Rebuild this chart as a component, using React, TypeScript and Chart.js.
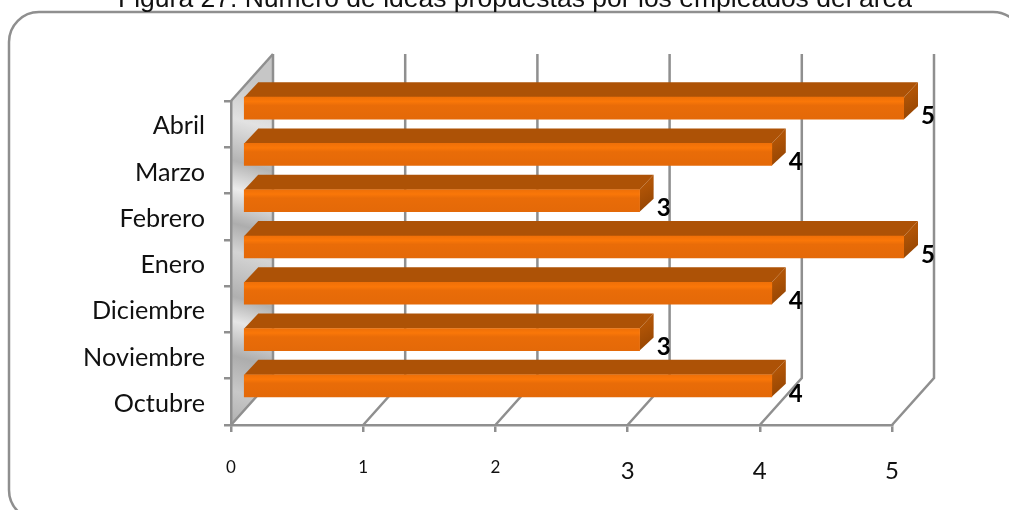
import { useEffect, useRef } from "react";
import { Chart, registerables } from "chart.js";

Chart.register(...registerables);

const chartTitle = "Figura 27. Número de ideas propuestas por los empleados del área";
const months = ["Octubre", "Noviembre", "Diciembre", "Enero", "Febrero", "Marzo", "Abril"];
const ideas = [4, 3, 4, 5, 3, 4, 5];
const axisMax = 5;

const LINE = "#8f8f8f";
const TOP_FACE = "#ad5206";
const FONT = "Lato";

// Projection of the 3D box: wall depth, bar offset inside the box, bar depth.
const WALL = { dx: 42, dy: -47 };
const BAR_SHIFT = { dx: 12, dy: -16 };
const BAR_DEPTH = { dx: 14, dy: -15 };

function roundedFrame(ctx: CanvasRenderingContext2D) {
  ctx.save();
  ctx.strokeStyle = LINE;
  ctx.lineWidth = 2.5;
  ctx.beginPath();
  ctx.roundRect(9, 12, 1014, 508, 30);
  ctx.stroke();
  ctx.restore();
}

const backdrop = {
  id: "backdrop",
  beforeDraw(chart: any) {
    const { ctx, chartArea: a, scales } = chart;
    ctx.save();
    ctx.fillStyle = "#fff";
    ctx.fillRect(0, 0, chart.width, chart.height);
    roundedFrame(ctx);

    ctx.fillStyle = "#111";
    ctx.font = "26.5px 'Liberation Sans'";
    ctx.textAlign = "center";
    ctx.textBaseline = "alphabetic";
    ctx.fillText(chartTitle, 515, 6.5);

    // Left side wall with its silver sheen
    const wall = ctx.createLinearGradient(a.left, a.bottom, a.left + 90, a.top);
    [
      [0, "#b0b0b0"], [0.1, "#c8c8c8"], [0.2, "#adadad"], [0.3, "#e6e6e6"], [0.37, "#b0b0b0"],
      [0.5, "#d4d4d4"], [0.58, "#adadad"], [0.68, "#ececec"], [0.76, "#b4b4b4"], [0.88, "#e2e2e2"], [1, "#c6c6c6"],
    ].forEach(([o, c]) => wall.addColorStop(o as number, c as string));
    ctx.fillStyle = wall;
    ctx.beginPath();
    ctx.moveTo(a.left, a.top);
    ctx.lineTo(a.left + WALL.dx, a.top + WALL.dy);
    ctx.lineTo(a.left + WALL.dx, a.bottom + WALL.dy);
    ctx.lineTo(a.left, a.bottom);
    ctx.closePath();
    ctx.fill();

    // Floor diagonals and back wall gridlines, one per value tick
    ctx.strokeStyle = LINE;
    ctx.lineWidth = 2.5;
    ctx.lineJoin = "miter";
    for (let v = 0; v <= axisMax; v++) {
      const px = scales.x.getPixelForValue(v);
      ctx.beginPath();
      ctx.moveTo(px, a.bottom);
      ctx.lineTo(px + WALL.dx, a.bottom + WALL.dy);
      ctx.lineTo(px + WALL.dx, a.top + WALL.dy);
      ctx.stroke();
    }
    ctx.beginPath();
    ctx.moveTo(a.left, a.top);
    ctx.lineTo(a.left + WALL.dx, a.top + WALL.dy);
    ctx.stroke();
    ctx.restore();
  },
};

const boxBars = {
  id: "boxBars",
  // Top and end faces sit behind the front faces that the dataset draws.
  beforeDatasetsDraw(chart: any) {
    const { ctx } = chart;
    const meta = chart.getDatasetMeta(0);
    ctx.save();
    ctx.translate(BAR_SHIFT.dx, BAR_SHIFT.dy);
    meta.data.forEach((bar: any) => {
      const { x, y, base, height } = bar.getProps(["x", "y", "base", "height"], true);
      const top = y - height / 2;
      const bottom = y + height / 2;
      ctx.fillStyle = TOP_FACE;
      ctx.beginPath();
      ctx.moveTo(base, top);
      ctx.lineTo(base + BAR_DEPTH.dx, top + BAR_DEPTH.dy);
      ctx.lineTo(x + BAR_DEPTH.dx, top + BAR_DEPTH.dy);
      ctx.lineTo(x, top);
      ctx.closePath();
      ctx.fill();

      const side = ctx.createLinearGradient(x, top, x + BAR_DEPTH.dx, bottom);
      side.addColorStop(0, "#b05406");
      side.addColorStop(1, "#8f4202");
      ctx.fillStyle = side;
      ctx.beginPath();
      ctx.moveTo(x, top);
      ctx.lineTo(x + BAR_DEPTH.dx, top + BAR_DEPTH.dy);
      ctx.lineTo(x + BAR_DEPTH.dx, bottom + BAR_DEPTH.dy + 2);
      ctx.lineTo(x, bottom);
      ctx.closePath();
      ctx.fill();
    });
    ctx.restore();
  },
  beforeDatasetDraw(chart: any) {
    chart.ctx.save();
    chart.ctx.translate(BAR_SHIFT.dx, BAR_SHIFT.dy);
  },
  afterDatasetDraw(chart: any) {
    chart.ctx.restore();
  },
  afterDatasetsDraw(chart: any) {
    const { ctx } = chart;
    ctx.save();
    ctx.fillStyle = "#000";
    ctx.font = `700 24px ${FONT}`;
    ctx.textAlign = "center";
    ctx.textBaseline = "middle";
    chart.getDatasetMeta(0).data.forEach((bar: any, i: number) => {
      const { x, y } = bar.getProps(["x", "y"], true);
      ctx.fillText(String(ideas[i]), x + 36, y - 8);
    });
    ctx.restore();
  },
};

export default function App() {
  const ref = useRef<HTMLCanvasElement>(null);

  useEffect(() => {
    const chart = new Chart(ref.current!, {
      type: "bar",
      data: {
        labels: months,
        datasets: [
          {
            data: ideas,
            barThickness: 22,
            borderWidth: 0,
            backgroundColor: (c: any) => {
              const y = c.chart.scales.y;
              const mid = y && c.dataIndex !== undefined ? y.getPixelForValue(c.dataIndex) : NaN;
              if (!Number.isFinite(mid)) return "#e86c08";
              const g = c.chart.ctx.createLinearGradient(0, mid - 11, 0, mid + 11);
              g.addColorStop(0, "#ef7008");
              g.addColorStop(0.2, "#fa7708");
              g.addColorStop(0.38, "#e96c08");
              g.addColorStop(1, "#e46908");
              return g;
            },
          },
        ],
      },
      plugins: [backdrop, boxBars],
      options: {
        indexAxis: "y",
        responsive: false,
        animation: false,
        layout: { padding: { top: 101, right: 117, left: 0, bottom: 0 } },
        plugins: { legend: { display: false }, title: { display: false }, tooltip: { enabled: false } },
        scales: {
          x: {
            min: 0,
            max: axisMax,
            grid: { drawOnChartArea: false, color: LINE, lineWidth: 2.5, tickLength: 7 },
            border: { color: LINE, width: 2.5 },
            afterFit: (s: any) => {
              s.height = 85;
            },
            ticks: {
              stepSize: 1,
              color: "#111",
              maxRotation: 0,
              padding: 25,
              font: (c: any) => ({ family: FONT, size: c.index < 3 ? 17 : 24 }),
            },
          },
          y: {
            reverse: true,
            grid: { drawOnChartArea: false, color: LINE, lineWidth: 2.5, tickLength: 7 },
            border: { color: LINE, width: 2.5 },
            afterFit: (s: any) => {
              s.width = 231;
            },
            ticks: {
              color: "#111",
              padding: 19,
              labelOffset: 2,
              font: { family: FONT, size: 25.2 },
            },
          },
        },
      },
    } as any);
    return () => chart.destroy();
  }, []);

  return (
    <div style={{ position: "absolute", left: 0, top: 0 }}>
      <canvas ref={ref} width={1009} height={510} style={{ display: "block" }} />
    </div>
  );
}
